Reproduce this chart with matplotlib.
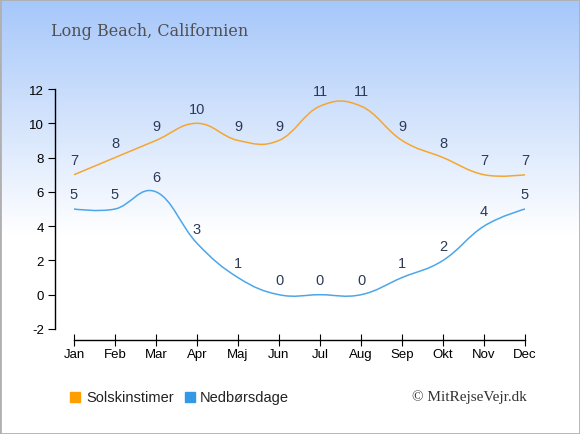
import numpy as np
import matplotlib.pyplot as plt
from matplotlib.path import Path
from matplotlib.patches import PathPatch, Rectangle

plt.rcParams['axes.unicode_minus'] = False
plt.rcParams['font.family'] = ['Liberation Sans', 'DejaVu Sans']

months = ["Jan", "Feb", "Mar", "Apr", "Maj", "Jun", "Jul", "Aug", "Sep", "Okt", "Nov", "Dec"]
sun_hours = [7, 8, 9, 10, 9, 9, 11, 11, 9, 8, 7, 7]
rain_days = [5, 5, 6, 3, 1, 0, 0, 0, 1, 2, 4, 5]

sun_color = "#f5a631"
rain_color = "#4ca6ea"
label_color = "#2c3a57"


def spline_path(xs, ys):
    # smooth bezier through the points (control points from neighbours)
    n = len(xs)
    sm, den = 1.5, 2.5
    left = [None] * n
    right = [None] * n
    for i in range(1, n - 1):
        x, y = xs[i], ys[i]
        lx, ly = xs[i - 1], ys[i - 1]
        nx, ny = xs[i + 1], ys[i + 1]
        lcx = (sm * x + lx) / den
        lcy = (sm * y + ly) / den
        rcx = (sm * x + nx) / den
        rcy = (sm * y + ny) / den
        if rcx != lcx:
            corr = (rcy - lcy) * (rcx - x) / (rcx - lcx) + y - rcy
            lcy += corr
            rcy += corr
        left[i] = (lcx, lcy)
        right[i] = (rcx, rcy)
    verts = [(xs[0], ys[0])]
    codes = [Path.MOVETO]
    for i in range(1, n):
        c1 = right[i - 1] if right[i - 1] is not None else (xs[i - 1], ys[i - 1])
        c2 = left[i] if left[i] is not None else (xs[i], ys[i])
        verts += [c1, c2, (xs[i], ys[i])]
        codes += [Path.CURVE4] * 3
    return Path(verts, codes)


fig = plt.figure(figsize=(5.8, 4.35), dpi=100)

# background gradient
bg = fig.add_axes([0, 0, 1, 1], zorder=-10)
grad = np.ones((435, 1, 3))
top = np.array([0.65, 0.78, 0.98])
for r in range(435):
    t = min(r / 235.0, 1.0)
    grad[r, 0] = top * (1 - t) + np.ones(3) * t
bg.imshow(grad, aspect="auto", extent=[0, 1, 0, 1])
bg.add_patch(Rectangle((0, 0), 1, 1, transform=bg.transAxes, fill=False,
                       edgecolor="#b0b0b0", linewidth=2))
bg.set_axis_off()

# axes: left at 55px; y 12 at 90px, x-axis line at 341px
ax = fig.add_axes([55 / 580, 1 - 341 / 435, 485 / 580, (341 - 90) / 435])
ax.patch.set_alpha(0)
ppm = 41.0
ax.set_xlim(-19 / ppm, 11 + (540 - 525) / ppm)
ax.set_ylim(-2 - 11 / 17.14, 12)

x = np.arange(len(months))
ax.add_patch(PathPatch(spline_path(x, sun_hours), fill=False, edgecolor=sun_color, lw=1.1))
ax.add_patch(PathPatch(spline_path(x, rain_days), fill=False, edgecolor=rain_color, lw=1.1))

for xi, v in zip(x, sun_hours):
    ax.text(xi, v + 0.45, str(v), ha="center", va="bottom", fontsize=10.5, color=label_color)
for xi, v in zip(x, rain_days):
    ax.text(xi, v + 0.45, str(v), ha="center", va="bottom", fontsize=10.5, color=label_color)

for s in ["top", "right"]:
    ax.spines[s].set_visible(False)
ax.spines["left"].set_bounds(-2, 12)
ax.spines["bottom"].set_bounds(0, 11)
ax.spines["left"].set_linewidth(1)
ax.spines["bottom"].set_linewidth(1)

ax.set_yticks(range(-2, 13, 2))
ax.set_xticks(x)
ax.set_xticklabels(months)
ax.tick_params(axis="y", direction="out", length=5, labelsize=9.5, pad=3)
ax.tick_params(axis="x", direction="inout", length=8, labelsize=9.5, pad=2)

fig.text(51 / 580, 1 - 32 / 435, "Long Beach, Californien", ha="left", va="center",
         fontsize=11.5, family="DejaVu Serif", color="#505050")

# legend
ly = 1 - 398 / 435
fig.patches.append(Rectangle((70 / 580, ly - 5 / 435), 10 / 580, 10 / 435,
                             transform=fig.transFigure, color="#ff9e00"))
fig.text(86 / 580, ly, "Solskinstimer", va="center", fontsize=10.5, color="#222222")
fig.patches.append(Rectangle((185 / 580, ly - 5 / 435), 10 / 580, 10 / 435,
                             transform=fig.transFigure, color="#3399e6"))
fig.text(200 / 580, ly, "Nedbørsdage", va="center", fontsize=10.5, color="#222222")
fig.text(527 / 580, ly + 1 / 435, "© MitRejseVejr.dk", ha="right", va="center",
         fontsize=11, family="Liberation Serif", color="#333333")

fig.savefig("out.png", dpi=100)
